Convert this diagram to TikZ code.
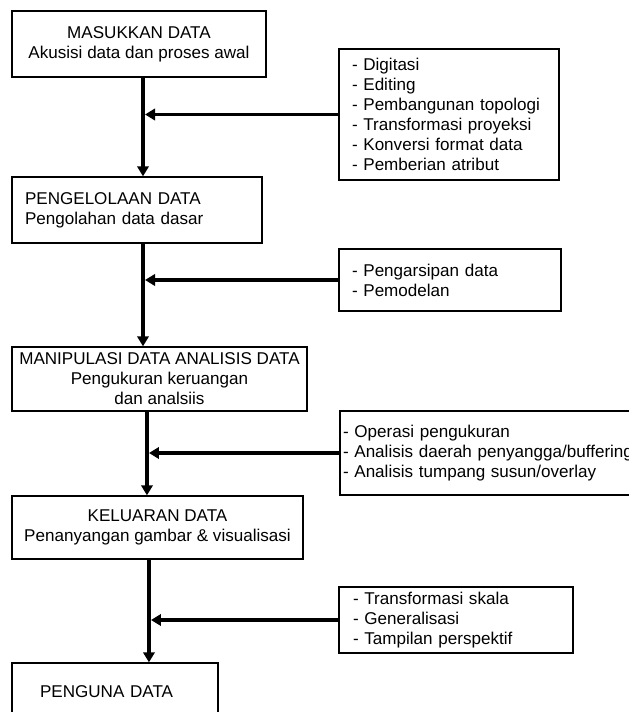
\documentclass[tikz,border=0pt]{standalone}
\usepackage{fontspec}
\setmainfont{Liberation Sans}
\usetikzlibrary{arrows.meta, positioning}

\begin{document}
\begin{tikzpicture}[
    x=0.75pt, y=-0.75pt,
    box/.style={draw, line width=1pt, inner sep=0pt, font=\fontsize{12.8}{15}\selectfont},
    listbox/.style={box, align=left, inner xsep=9.75pt},
    arrow/.style={-{Triangle[width=8.5pt, length=7.5pt]}, line width=2.5pt}
]
\useasboundingbox (0,0) rectangle (628,712);

% Row (1)
\node[box, minimum width=190.5pt, minimum height=49.5pt, align=center] (masuk) at (139,44) {MASUKKAN DATA\\Akusisi data dan proses awal};
\node[listbox, minimum width=165pt, minimum height=98.25pt, text width=145.5pt] (ket1) at (449,114.5) {- Digitasi\\- Editing\\- Pembangunan topologi\\- Transformasi proyeksi\\- Konversi format data\\- Pemberian atribut};

% Row (2)
\node[box, minimum width=187.5pt, minimum height=49.5pt, align=left, inner xsep=9.75pt, text width=168pt] (kelola) at (137,210) {PENGELOLAAN DATA\\Pengolahan data dasar};
\node[listbox, minimum width=166.5pt, minimum height=46.5pt, text width=147pt] (ket2) at (450,280) {- Pengarsipan data\\- Pemodelan};

% Row (3)
\node[box, minimum width=221.25pt, minimum height=48pt, align=center] (manip) at (159.5,379) {MANIPULASI DATA ANALISIS DATA\\Pengukuran keruangan\\dan analsiis};
\node[listbox, minimum width=228.75pt, minimum height=63pt, inner xsep=2.25pt, text width=224.25pt] (ket3) at (492.5,453) {- Operasi pengukuran\\- Analisis daerah penyangga/buffering\\- Analisis tumpang susun/overlay};

% Row (4)
\node[box, minimum width=218.25pt, minimum height=47.25pt, align=center] (keluar) at (157.5,527.5) {KELUARAN DATA\\Penanyangan gambar \& visualisasi};
\node[listbox, minimum width=175.5pt, minimum height=49.5pt, inner xsep=10.5pt, text width=154.5pt] (ket4) at (456,620) {- Transformasi skala\\- Generalisasi\\- Tampilan perspektif};

% Row (5)
\node[box, minimum width=154.5pt, minimum height=43.5pt, align=left, inner xsep=21pt, text width=112.5pt] (pengguna) at (115,692) {PENGUNA DATA};

% Arrows
\coordinate (p1) at ([xshift=3pt]masuk.south);
\coordinate (p2) at ([xshift=4.5pt]kelola.south);
\coordinate (p3) at ([xshift=-9.4pt]manip.south);
\coordinate (p4) at ([xshift=-6.4pt]keluar.south);
\draw[arrow] (p1) -- (p1 |- kelola.north);
\draw[arrow] (p2) -- (p2 |- manip.north);
\draw[arrow] (p3) -- (p3 |- keluar.north);
\draw[arrow] (p4) -- (p4 |- pengguna.north);
\draw[arrow] (ket1.west) -- ([xshift=1.5pt]ket1.west -| p1);
\draw[arrow] (ket2.west) -- ([xshift=1.5pt]ket2.west -| p2);
\draw[arrow] (ket3.west) -- ([xshift=1.5pt]ket3.west -| p3);
\draw[arrow] (ket4.west) -- ([xshift=1.5pt]ket4.west -| p4);

\end{tikzpicture}
\end{document}
